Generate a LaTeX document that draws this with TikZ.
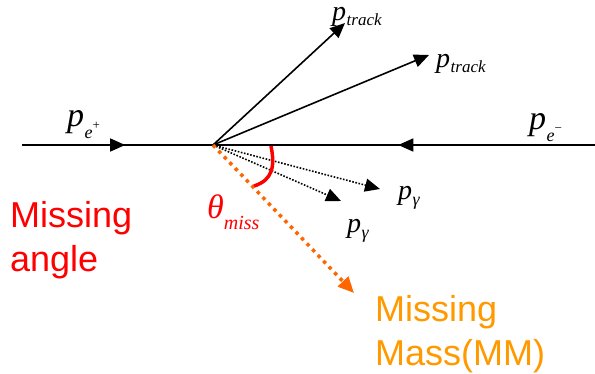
\documentclass[tikz,border=0pt]{standalone}
\usepackage{fontspec}
\setmainfont{Liberation Serif}
\newfontfamily\arialf{Liberation Sans}
\usetikzlibrary{arrows.meta,decorations.markings}
\definecolor{mred}{RGB}{255,0,0}
\definecolor{morange}{RGB}{255,102,0}
\definecolor{mtext}{RGB}{255,153,0}
\newcommand\fsz[1]{\fontsize{#1}{#1}\selectfont}
\newcommand\pelab[1]{{\fsz{34}\textit{p}}\kern0.5pt\raisebox{-12pt}{\fsz{18}\textit{e}\raisebox{9pt}{\fsz{13}#1}}}
\newcommand\psub[4]{{\fsz{#1}\textit{p}}\kern0.5pt\raisebox{-#3}{\fsz{#2}\textit{#4}}}
\begin{document}
\begin{tikzpicture}[x=1pt,y=-1pt,
  mainline/.style={line width=1.6pt,black},
  photon/.style={line width=1.6pt,black,dash pattern=on 1.6pt off 1.6pt},
  mmline/.style={line width=3.5pt,morange,dash pattern=on 3.5pt off 4.5pt},
  lab/.style={inner sep=0pt,anchor=base west},
  bigtext/.style={inner sep=0pt,anchor=base west,align=left,font=\arialf\fontsize{36}{44}\selectfont}]
\useasboundingbox (0,0) rectangle (595,373);
\coordinate (L) at (22,145);
\coordinate (O) at (213,145);
\coordinate (R) at (595,145);
\coordinate (T1) at (345,23);
\coordinate (T2) at (429,55);
\coordinate (G1) at (380,189);
\coordinate (G2) at (341,201);
\coordinate (M) at (354,293);
\coordinate (A1) at (271,146);
\coordinate (A2) at (254,186);
% beam lines
\draw[mainline,postaction={decorate},decoration={markings,mark=at position 0.54 with {\arrow{Triangle[length=15pt,width=13pt]}}}] (L) -- (O);
\draw[mainline,postaction={decorate},decoration={markings,mark=at position 0.515 with {\arrow{Triangle[length=15pt,width=13pt]}}}] (R) -- (O);
% tracks
\draw[mainline,-{Triangle[length=15pt,width=13pt]}] (O) -- (T1);
\draw[mainline,-{Triangle[length=15pt,width=13pt]}] (O) -- (T2);
% photons
\draw[photon,-{Triangle[length=15pt,width=13pt]}] (O) -- (G1);
\draw[photon,-{Triangle[length=15pt,width=13pt]}] (O) -- (G2);
% missing momentum
\draw[mmline,-{Triangle[length=16pt,width=14pt]}] (O) -- (M);
% angle arc
\draw[mred,line width=3.5pt] (A1) .. controls (275,166) and (273,180) .. (A2);
% labels
\node[lab] (pep) at (67,126) {\pelab{+}};
\node[lab] (pem) at (529,129) {\pelab{−}};
\node[lab] (pt1) at (332,20) {\psub{28}{17}{5pt}{track}};
\node[lab] (pt2) at (436,67) {\psub{28}{17}{5pt}{track}};
\node[lab] (pg1) at (398,199) {\psub{28}{18}{6pt}{γ}};
\node[lab] (pg2) at (347,232) {\psub{28}{18}{6pt}{γ}};
\node[lab,text=mred] (th) at (207,218) {{\fsz{34}\textit{θ}}\raisebox{-11pt}{\fsz{20}\textit{miss}}};
\node[bigtext,text=mred] (ma) at (10,271) {Missing\\angle};
\node[bigtext,text=mtext] (mm) at (375,365) {Missing\\Mass(MM)};
\end{tikzpicture}
\end{document}
